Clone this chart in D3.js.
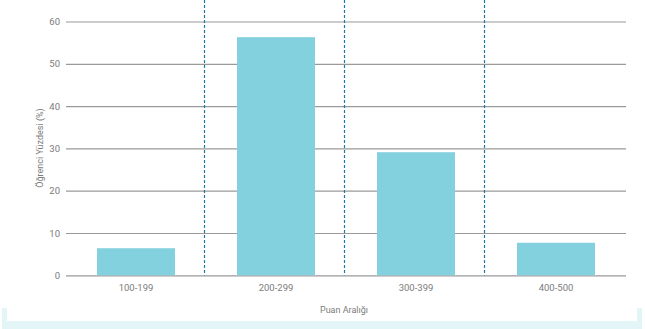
<!DOCTYPE html>
<html>
<head>
<meta charset="utf-8">
<script src="https://cdn.jsdelivr.net/npm/d3@7"></script>
<style>
  body { margin: 0; background: #fff; }
  text { font-family: Roboto, "Noto Sans", sans-serif; fill: #7c7c7c; }
</style>
</head>
<body>
<div class="container"></div>
<script>
// data
const categories = ["100-199", "200-299", "300-399", "400-500"];
const values = [6.4, 56.3, 29.1, 7.7];
const yTicks = [0, 10, 20, 30, 40, 50, 60];

const w = 645;
const h = 329;

const svg = d3.select(".container")
              .append("svg")
              .attr("width", w)
              .attr("height", h);

// light frame at the bottom of the panel
const frameColor = "#e4f5f8";
svg.append("rect").attr("x", 2).attr("y", 308).attr("width", 5).attr("height", 21).attr("fill", frameColor);
svg.append("rect").attr("x", 637).attr("y", 308).attr("width", 5).attr("height", 21).attr("fill", frameColor);
svg.append("rect").attr("x", 2).attr("y", 321).attr("width", 640).attr("height", 8).attr("fill", frameColor);

const pad = 0.443;
const xScale = d3.scaleBand()
                 .domain(categories)
                 .range([66, 626])
                 .paddingInner(pad)
                 .paddingOuter(pad / 2);

const yScale = d3.scaleLinear()
                 .domain([0, 60])
                 .range([275.3, 21.5]);

// horizontal grid + y tick labels
const yAxis = d3.axisLeft(yScale)
                .tickValues(yTicks)
                .tickSize(-(626 - 66))
                .tickPadding(6)
                .tickFormat(d3.format("d"));

const gy = svg.append("g")
              .attr("id", "y-axis")
              .attr("transform", "translate(66,0)")
              .call(yAxis);
gy.select(".domain").remove();
gy.selectAll(".tick line").attr("stroke", "#9a9a9a").attr("stroke-width", 1.2);
gy.selectAll(".tick text").attr("font-size", 9.5).attr("fill", "#7c7c7c");

// bars
svg.selectAll(".bar")
   .data(values)
   .enter()
   .append("rect")
   .attr("class", "bar")
   .attr("x", (d, i) => xScale(categories[i]))
   .attr("y", (d) => yScale(d))
   .attr("width", xScale.bandwidth())
   .attr("height", (d) => yScale(0) - yScale(d))
   .attr("fill", "#83d1de");

// dotted separators between bands
const half = xScale.step() * pad / 2;
svg.selectAll(".sep")
   .data(categories.slice(1))
   .enter()
   .append("line")
   .attr("class", "sep")
   .attr("x1", (d) => xScale(d) - half - 1.5)
   .attr("x2", (d) => xScale(d) - half - 1.5)
   .attr("y1", 0)
   .attr("y2", yScale(0))
   .attr("stroke", "#1f77a8")
   .attr("stroke-width", 1.2)
   .attr("stroke-dasharray", "3,2");

// x labels
const xAxis = d3.axisBottom(xScale).tickSize(0).tickPadding(9);
const gx = svg.append("g")
              .attr("id", "x-axis")
              .attr("transform", "translate(0," + yScale(0) + ")")
              .call(xAxis);
gx.select(".domain").remove();
gx.selectAll(".tick text").attr("font-size", 9.5).attr("fill", "#7c7c7c");

// axis titles
svg.append("text")
   .attr("x", 344)
   .attr("y", 313)
   .attr("text-anchor", "middle")
   .attr("font-size", 9)
   .text("Puan Aralığı");

svg.append("text")
   .attr("transform", "translate(43,148) rotate(-90)")
   .attr("text-anchor", "middle")
   .attr("font-size", 9)
   .text("Öğrenci Yüzdesi (%)");
</script>
</body>
</html>
